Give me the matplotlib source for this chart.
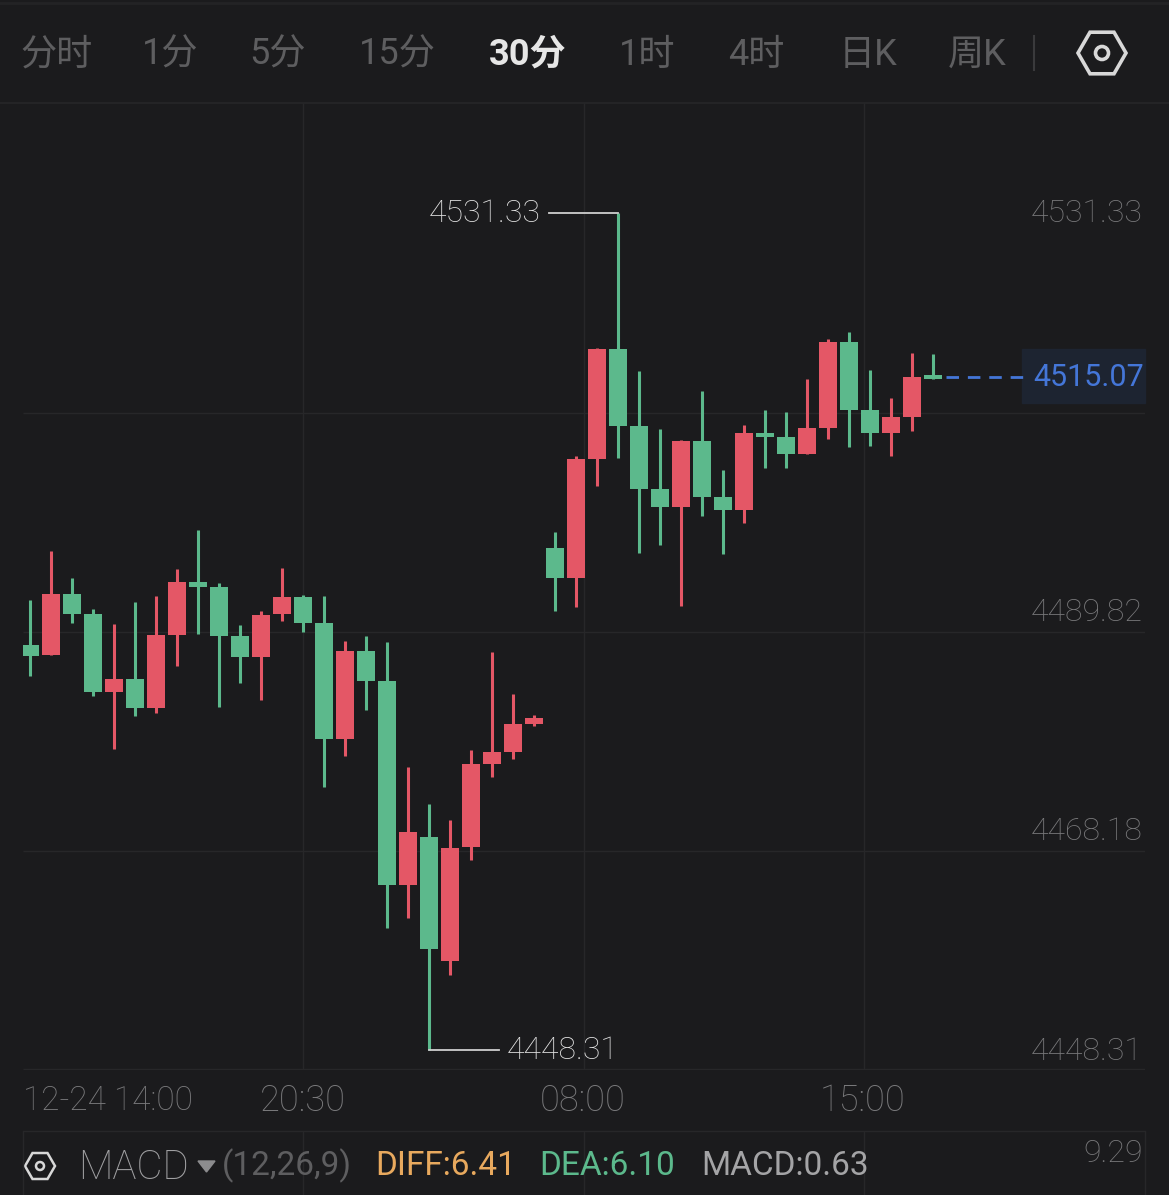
import matplotlib
matplotlib.use("Agg")
import matplotlib.pyplot as plt
from matplotlib.patches import Rectangle, RegularPolygon, Circle, Polygon

plt.rcParams["font.family"] = ["Roboto", "Noto Sans CJK SC", "DejaVu Sans"]

opens = [4488.47, 4487.48, 4493.53, 4491.55, 4483.81, 4485.10, 4482.22, 4489.46, 4494.72, 4494.22, 4489.36,
         4487.28, 4491.55, 4493.23, 4490.65, 4479.14, 4487.87, 4484.90, 4464.66, 4469.42, 4457.12, 4468.43,
         4476.66, 4477.85, 4480.63, 4498.09, 4495.12, 4506.92, 4517.84, 4510.20, 4503.95, 4502.16, 4508.71,
         4503.15, 4501.86, 4509.50, 4509.11, 4507.42, 4510.00, 4518.53, 4511.78, 4509.50, 4511.09, 4515.27]
highs = [4492.93, 4497.80, 4495.12, 4492.04, 4490.55, 4492.74, 4493.33, 4496.01, 4499.88, 4494.62, 4490.45,
         4491.84, 4496.11, 4493.43, 4493.33, 4488.87, 4489.36, 4488.77, 4476.37, 4472.70, 4471.11, 4478.05,
         4487.78, 4483.61, 4481.52, 4499.68, 4507.22, 4517.94, 4531.33, 4515.65, 4509.90, 4508.81, 4513.67,
         4505.83, 4510.30, 4511.78, 4511.59, 4514.86, 4518.83, 4519.52, 4515.75, 4512.97, 4517.44, 4517.34]
lows = [4485.39, 4487.48, 4490.65, 4483.41, 4478.15, 4481.43, 4481.72, 4486.39, 4489.56, 4482.32, 4484.70,
        4483.01, 4490.85, 4489.76, 4474.38, 4477.46, 4482.02, 4460.39, 4461.39, 4448.31, 4455.73, 4467.14,
        4475.37, 4477.16, 4480.43, 4491.84, 4492.24, 4504.24, 4507.02, 4497.60, 4498.39, 4492.34, 4501.27,
        4497.50, 4500.57, 4506.03, 4506.03, 4507.42, 4508.91, 4508.11, 4508.21, 4507.22, 4509.70, 4514.86]
closes = [4487.38, 4493.53, 4491.55, 4483.81, 4485.10, 4482.22, 4489.46, 4494.72, 4494.22, 4489.36, 4487.28,
          4491.45, 4493.23, 4490.65, 4479.14, 4487.87, 4484.90, 4464.66, 4469.92, 4458.31, 4468.33, 4476.66,
          4477.85, 4480.63, 4481.23, 4495.12, 4506.92, 4517.84, 4510.20, 4503.95, 4502.16, 4508.71, 4503.15,
          4501.86, 4509.50, 4509.11, 4507.42, 4510.00, 4518.53, 4511.78, 4509.50, 4511.09, 4515.06, 4514.87]

last_price = 4515.07
high_price = 4531.33
low_price = 4448.31
grid_prices = [4511.46, 4489.76, 4468.04, 4446.42]
price_labels = ["4531.33", "4511.46", "4489.82", "4468.18", "4448.31"]
label_rows = [213, 393, 612, 831, 1052]
time_labels = ["12-24 14:00", "20:30", "08:00", "15:00"]
time_ticks = [13, 26.38, 39.71]
tabs = ["分时", "1分", "5分", "15分", "30分", "1时", "4时", "日K", "周K"]
tab_x = [57, 170, 278, 397, 528, 647, 756, 868, 977]

BG = "#1b1b1d"
RED = "#e45766"
GREEN = "#5cb98c"
GRID = "#272729"
DIM = "#5e5e60"
THIN = "#7a7a7c"
LIGHT = "#e2e2e2"
BLUE = "#4476d8"

W, H = 1169, 1195
fig = plt.figure(figsize=(W / 100, H / 100), dpi=100, facecolor=BG)

# page layer in pixels
ui = fig.add_axes([0, 0, 1, 1], zorder=1)
ui.set_xlim(0, W)
ui.set_ylim(H, 0)
ui.axis("off")

# price chart
ax = fig.add_axes([23 / W, 1 - 1070 / H, (1145 - 23) / W, (1070 - 103) / H], zorder=2)
ax.patch.set_alpha(0)
ax.set_xlim(-1 / 3, 53.1)
ax.set_ylim(4446.30, 4542.24)
for s in ax.spines.values():
    s.set_visible(False)
ax.set_xticks([])
ax.set_yticks([])
ax.hlines(grid_prices, -1 / 3, 53.1, color=GRID, lw=1, zorder=1)
ax.vlines(time_ticks, 4446.30, 4542.24, color=GRID, lw=1, zorder=1)

for i in range(len(opens)):
    color = RED if closes[i] > opens[i] else GREEN
    ax.vlines(i, lows[i], highs[i], color=color, lw=2.2, zorder=3)
    ax.bar(i, abs(closes[i] - opens[i]), 0.86, bottom=min(opens[i], closes[i]), color=color, zorder=3)

# high / low markers
hi = highs.index(high_price)
lo = lows.index(low_price)
ax.plot([hi, hi - 3.3], [high_price, high_price], color="#cfcfcf", lw=1.3, zorder=4)
ax.text(hi - 3.7, high_price - 0.1, f"{high_price:.2f}", color=LIGHT, fontsize=23, fontweight="light",
        ha="right", va="center")
ax.plot([lo, lo + 3.33], [low_price, low_price], color="#cfcfcf", lw=1.3, zorder=4)
ax.text(lo + 3.7, low_price - 0.1, f"{low_price:.2f}", color=LIGHT, fontsize=23, fontweight="light",
        ha="left", va="center")

# last price
ax.plot([43.6, 47.4], [last_price, last_price], color=BLUE, lw=2, dashes=(4.5, 3.2), zorder=4)

# price labels, the last price box sits over one of them
for lab, row in zip(price_labels, label_rows):
    ui.text(1143, row, lab, color=THIN, fontsize=23, fontweight="light", ha="right", va="center")
ui.add_patch(Rectangle((1022, 349), 123, 54, color="#1d2431", zorder=5))
ax.text(53.05, last_price - 0.1, f"{last_price:.2f}", color=BLUE, fontsize=22, ha="right", va="center", zorder=6)

# tabs
for name, x in zip(tabs, tab_x):
    if name == "30分":
        ui.text(x, 55, name, color="#e6e6e6", fontsize=26, fontweight="bold", ha="center", va="center")
    else:
        ui.text(x, 55, name, color=DIM, fontsize=26, ha="center", va="center")
ui.plot([1034, 1034], [36, 70], color="#3a3a3c", lw=1.5)
ui.plot([0, W], [3, 3], color="#232325", lw=2)
ui.plot([0, W], [103, 103], color="#262628", lw=1.2)


def hex_icon(x, y, r, inner, color, lw):
    ui.add_patch(RegularPolygon((x, y), 6, radius=r, orientation=0.5236, fill=False, ec=color, lw=lw))
    ui.add_patch(Circle((x, y), inner, fill=False, ec=color, lw=lw))


hex_icon(1102, 53, 24, 6.5, "#d8d8d8", 2.6)

# time axis
ui.text(23, 1101, time_labels[0], color=THIN, fontsize=24, fontweight="light", ha="left", va="center")
for lab, x in zip(time_labels[1:], [303, 583, 863]):
    ui.text(x, 1101, lab, color=THIN, fontsize=26, fontweight="light", ha="center", va="center")

# MACD strip
ui.plot([23, 1145], [1131, 1131], color=GRID, lw=1)
ui.vlines([23, 303, 584, 864, 1145], 1131, H, color=GRID, lw=1)
hex_icon(40, 1166, 15, 4, "#d8d8d8", 1.8)
ui.text(78, 1168, "MACD", color="#a0a0a2", fontsize=29, fontweight="light", ha="left", va="center")
ui.add_patch(Polygon([(198, 1161), (215, 1161), (206.5, 1172)], color="#8c8c8e"))
ui.text(222, 1166, "(12,26,9)", color=DIM, fontsize=24, ha="left", va="center")
ui.text(375, 1166, "DIFF:6.41", color="#e8a95e", fontsize=24, ha="left", va="center")
ui.text(539, 1166, "DEA:6.10", color=GREEN, fontsize=24, ha="left", va="center")
ui.text(701, 1166, "MACD:0.63", color="#a4a4a6", fontsize=24, ha="left", va="center")
ui.text(1143, 1154, "9.29", color=THIN, fontsize=23, fontweight="light", ha="right", va="center")

fig.savefig("out.png", dpi=100, facecolor=BG)
